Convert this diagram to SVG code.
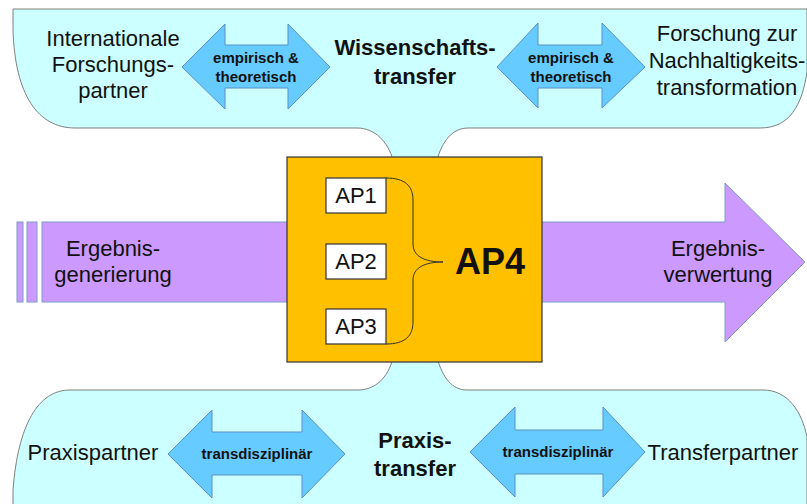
<svg xmlns="http://www.w3.org/2000/svg" width="807" height="504" viewBox="0 0 807 504">
<style>
.band{fill:#CCFFFF;stroke:#7F7F7F;stroke-width:1}
.barrow{fill:#66CCFF;stroke:#5B8FC7;stroke-width:1}
.parrow{fill:#CC99FF;stroke:#7C9CC8;stroke-width:1}
.ap{fill:#FFFFFF;stroke:#333333;stroke-width:1.2}
.t{font-family:"Liberation Sans",Arial,sans-serif;fill:#111;text-anchor:middle}
.r20{font-size:22px}
.b19{font-size:22px;font-weight:bold}
.b14{font-size:15px;font-weight:bold}
.ap18{font-size:22px}
</style>
<rect width="807" height="504" fill="#FFFFFF"/>
<g id="wissenschaftstransfer">
<path class="band" d="M13,9 L807,9 L807,72 C 802,105 790,128 760,128 L468,128 C 452,128 442,142 437,160 L393,160 C 388,142 375,128 357,128 L75,128 C 38,128 15,95 13,30 Z"/>
<text class="t b19" x="415" y="55">Wissenschafts-</text>
<text class="t b19" x="415" y="84">transfer</text>
</g>
<g id="praxistransfer">
<path class="band" d="M13,506 L13,490 C 18,425 38,390 70,390 L358,390 C 375,390 388,378 393,358 L437,358 C 443,378 452,390 467,390 L763,390 C 788,390 802,412 807,437 L807,506 Z"/>
<text class="t b19" x="415" y="448">Praxis-</text>
<text class="t b19" x="415" y="476">transfer</text>
</g>
<g id="internationale-forschungspartner">
<text class="t r20" x="113" y="46">Internationale</text>
<text class="t r20" x="113" y="72">Forschungs-</text>
<text class="t r20" x="113" y="98">partner</text>
</g>
<g id="forschung-nachhaltigkeitstransformation">
<text class="t r20" x="727" y="41">Forschung zur</text>
<text class="t r20" x="727" y="68">Nachhaltigkeits-</text>
<text class="t r20" x="727" y="95">transformation</text>
</g>
<g id="praxispartner">
<text class="t r20" x="93" y="460">Praxispartner</text>
</g>
<g id="transferpartner">
<text class="t r20" x="723" y="460">Transferpartner</text>
</g>
<g id="ergebnisgenerierung">
<rect class="parrow" x="17" y="222" width="6" height="80"/>
<rect class="parrow" x="27" y="222" width="10" height="80"/>
<rect class="parrow" x="42" y="222" width="250" height="80"/>
<text class="t r20" x="113" y="256">Ergebnis-</text>
<text class="t r20" x="113" y="282">generierung</text>
</g>
<g id="ergebnisverwertung">
<path class="parrow" d="M540,222 L725,222 L725,183 L805,262 L725,342 L725,302 L540,302 Z"/>
<text class="t r20" x="718" y="256">Ergebnis-</text>
<text class="t r20" x="718" y="282">verwertung</text>
</g>
<g id="ap4">
<rect x="287" y="157" width="255" height="205" fill="#FFC000" stroke="#333333" stroke-width="1.2"/>
<text class="t" x="490" y="274" style="font-size:36px;font-weight:bold">AP4</text>
</g>
<g id="ap1">
<rect class="ap" x="326" y="178" width="60" height="35"/>
<text class="t ap18" x="356" y="203">AP1</text>
</g>
<g id="ap2">
<rect class="ap" x="326" y="244" width="60" height="35"/>
<text class="t ap18" x="356" y="269">AP2</text>
</g>
<g id="ap3">
<rect class="ap" x="326" y="309" width="60" height="35"/>
<text class="t ap18" x="356" y="334">AP3</text>
</g>
<g id="connectors">
<path d="M386,178 C 405,178 413,186 413,200 L413,244 C 413,256 424,262 443,262 C 424,262 413,268 413,280 L413,322 C 413,336 405,344 386,344" fill="none" stroke="#333333" stroke-width="1"/>
<g id="arrow-top-left">
<path class="barrow" d="M182,67 L225,24 L225,45 L288,45 L288,24 L330,67 L288,109 L288,88 L225,88 L225,109 Z"/>
<text class="t b14" x="256" y="63">empirisch &amp;</text>
<text class="t b14" x="256" y="82">theoretisch</text>
</g>
<g id="arrow-top-right">
<path class="barrow" d="M497,67 L538,23 L538,45 L602,45 L602,23 L645,67 L602,108 L602,88 L538,88 L538,108 Z"/>
<text class="t b14" x="571" y="63">empirisch &amp;</text>
<text class="t b14" x="571" y="82">theoretisch</text>
</g>
<g id="arrow-bottom-left">
<path class="barrow" d="M168,454 L212,410 L212,432 L302,432 L302,410 L345,454 L302,498 L302,475 L212,475 L212,498 Z"/>
<text class="t b14" x="257" y="459">transdisziplinär</text>
</g>
<g id="arrow-bottom-right">
<path class="barrow" d="M470,452 L515,407 L515,430 L603,430 L603,407 L645,452 L603,497 L603,474 L515,474 L515,497 Z"/>
<text class="t b14" x="558" y="457">transdisziplinär</text>
</g>
</g>
</svg>
